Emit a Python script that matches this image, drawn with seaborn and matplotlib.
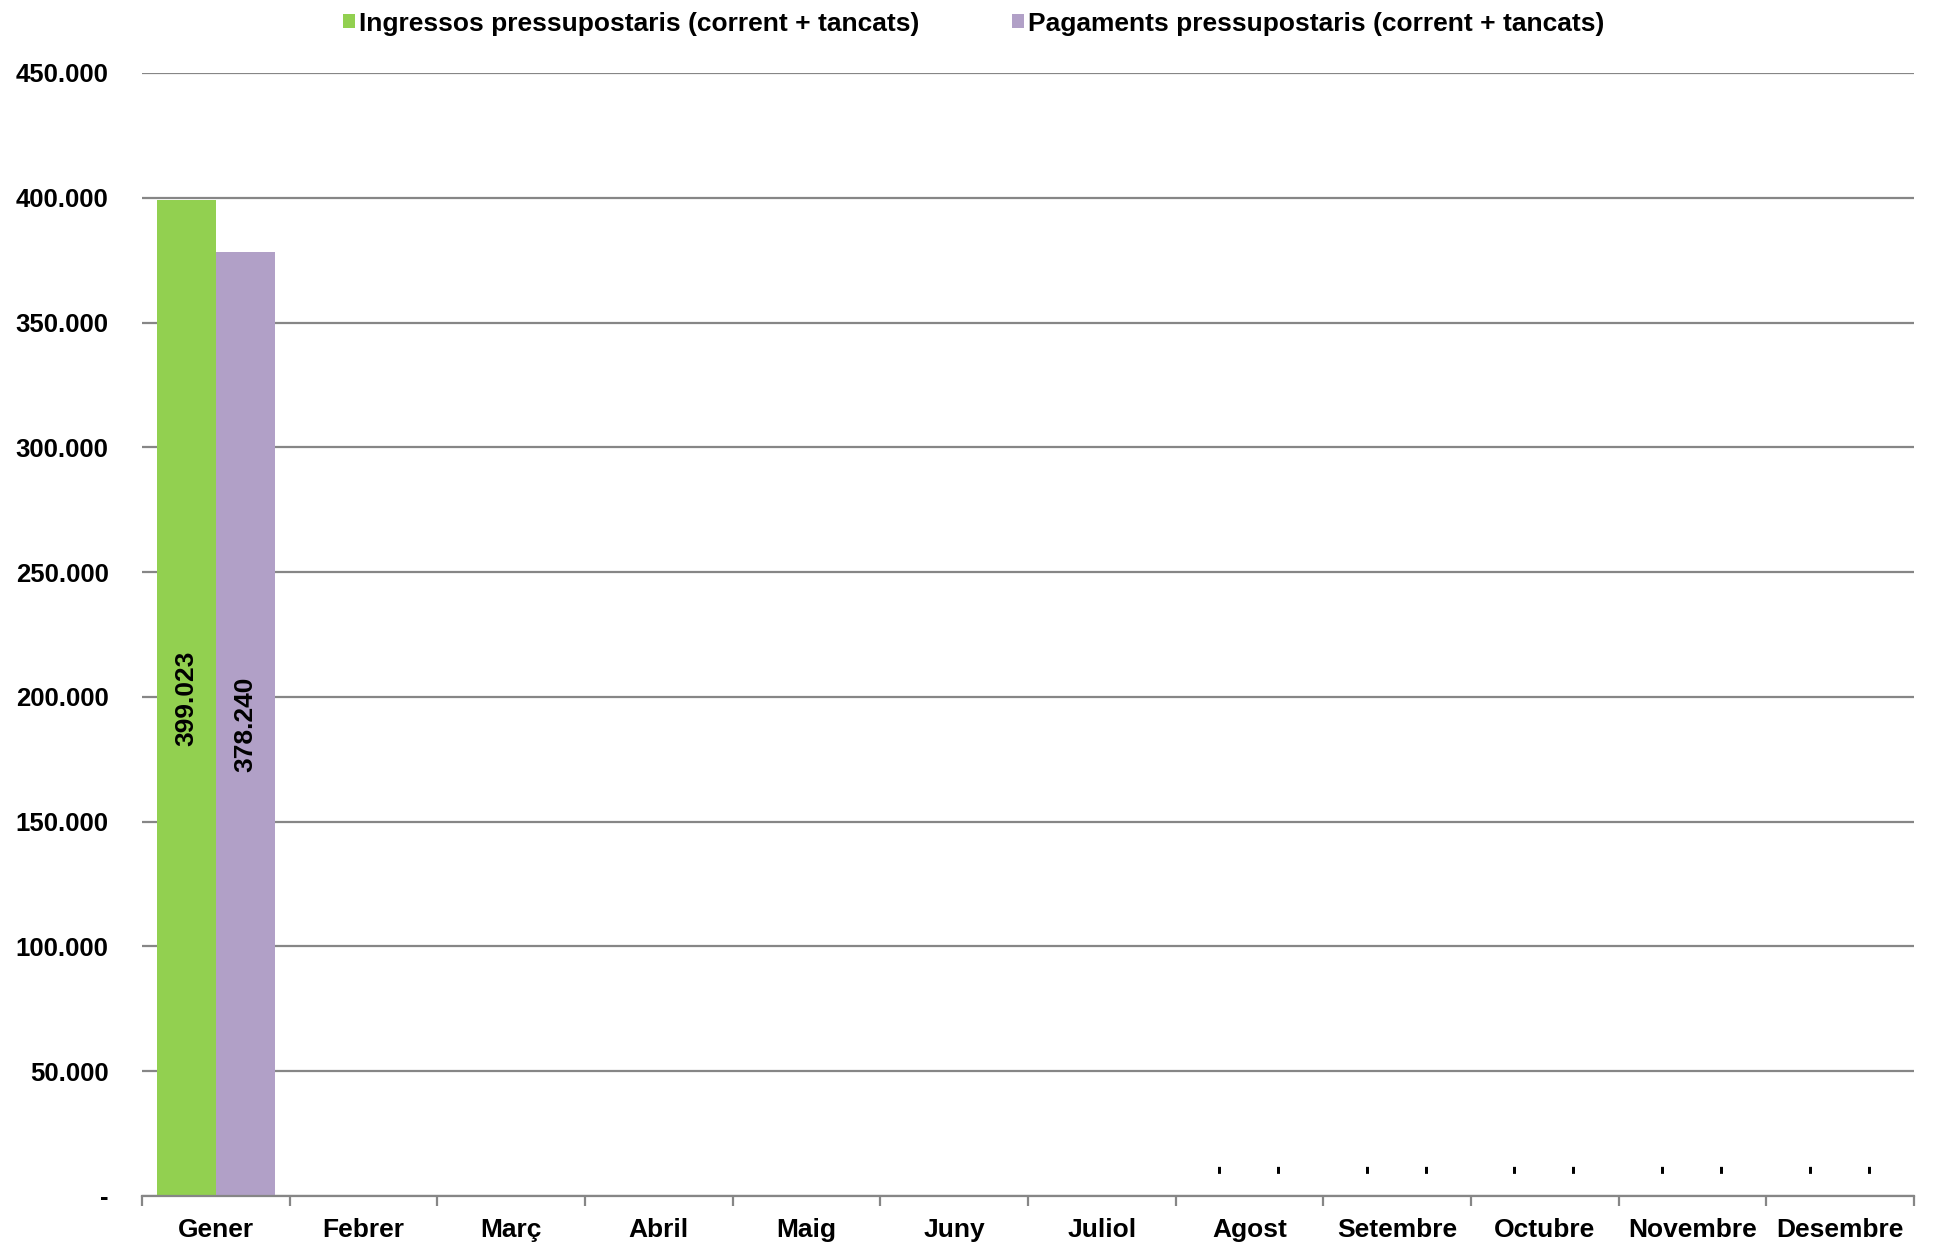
import numpy as np
import pandas as pd
import seaborn as sns
import matplotlib.pyplot as plt
from matplotlib.patches import Patch
from matplotlib.ticker import FuncFormatter, FixedLocator

mesos = ['Gener', 'Febrer', 'Març', 'Abril', 'Maig', 'Juny', 'Juliol',
         'Agost', 'Setembre', 'Octubre', 'Novembre', 'Desembre']
series = ['Ingressos pressupostaris (corrent + tancats)',
          'Pagaments pressupostaris (corrent + tancats)']
ingressos = [399023, np.nan, np.nan, np.nan, np.nan, np.nan, np.nan, 0, 0, 0, 0, 0]
pagaments = [378240, np.nan, np.nan, np.nan, np.nan, np.nan, np.nan, 0, 0, 0, 0, 0]
colors = ['#92D050', '#B1A0C7']

df = pd.DataFrame({
    'Mes': mesos * 2,
    'Serie': [series[0]] * 12 + [series[1]] * 12,
    'Valor': ingressos + pagaments,
}).dropna()

sns.set_style('white')
plt.rcParams['font.family'] = ['Liberation Sans', 'DejaVu Sans']
plt.rcParams['font.weight'] = 'bold'
plt.rcParams['text.color'] = 'black'

fig = plt.figure(figsize=(19.36, 12.47), dpi=100)
ax = fig.add_axes([0.0733, 0.0409, 0.9153, 0.9006])

sns.barplot(data=df, x='Mes', y='Valor', hue='Serie', order=mesos, hue_order=series,
            palette=colors, width=0.8, errorbar=None, ax=ax, legend=False,
            saturation=1, linewidth=0, edgecolor='none')


def fmt(v):
    return f'{v:,.0f}'.replace(',', '.')


for cont in ax.containers:
    labels = [fmt(b.get_height()) if b.get_height() > 0 else '' for b in cont]
    ax.bar_label(cont, labels=labels, label_type='center', rotation=90,
                 fontsize=19, fontweight='bold', color='black')
    for b in cont:
        if b.get_height() == 0:
            ax.annotate('-', (b.get_x() + b.get_width() / 2, 0), xytext=(0, 20),
                        textcoords='offset points', ha='center', va='center',
                        rotation=90, fontsize=20, fontweight='bold', color='black')

ax.set_xlim(-0.5, 11.5)
ax.set_ylim(0, 450000)
ax.set_yticks(np.arange(0, 450001, 50000))
ax.yaxis.set_major_formatter(FuncFormatter(lambda v, p: '-' if v == 0 else fmt(v)))
ax.grid(axis='y', color='#868686', linewidth=1.6)
ax.set_axisbelow(True)
for s in ['left', 'right', 'top']:
    ax.spines[s].set_visible(False)
ax.spines['bottom'].set_color('#868686')
ax.spines['bottom'].set_linewidth(1.6)

ax.xaxis.set_minor_locator(FixedLocator(np.arange(-0.5, 12, 1)))
ax.tick_params(axis='x', which='major', length=0, pad=16, labelsize=19, labelcolor='black')
ax.tick_params(axis='x', which='minor', length=7, width=1.6, color='#868686', bottom=True)
ax.tick_params(axis='y', length=0, pad=24, labelsize=18.5, labelcolor='black')
for t in ax.get_xticklabels() + ax.get_yticklabels():
    t.set_fontweight('bold')
ax.set_xlabel('')
ax.set_ylabel('')

handles = [Patch(facecolor=c, edgecolor='none') for c in colors]
fig.legend(handles, series, loc='center', bbox_to_anchor=(0.503, 0.981), ncol=2,
           frameon=False, handlelength=0.45, handleheight=0.45,
           handletextpad=0.15, columnspacing=3.5, labelcolor='black',
           prop={'weight': 'bold', 'size': 19})

fig.savefig('out.png', dpi=100)
